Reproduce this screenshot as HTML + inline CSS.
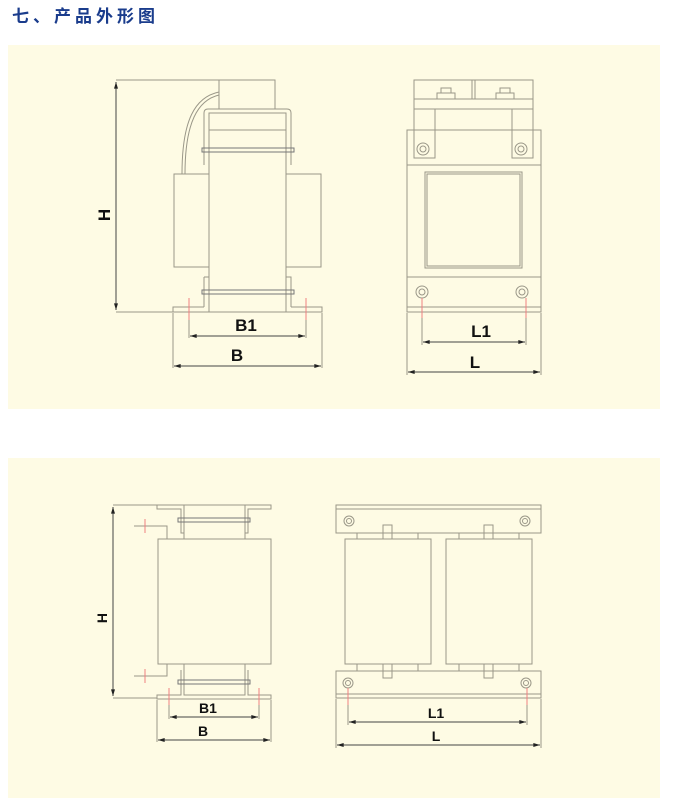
<!DOCTYPE html>
<html><head><meta charset="utf-8"><style>
body{margin:0;background:#fff;width:680px;height:799px;overflow:hidden}
svg{display:block}
</style></head><body>
<svg width="680" height="799" viewBox="0 0 680 799" xmlns="http://www.w3.org/2000/svg">
<defs>
<marker id="a" viewBox="0 0 10 6" refX="10" refY="3" markerWidth="10" markerHeight="4" orient="auto-start-reverse" markerUnits="userSpaceOnUse"><path d="M0,0 L10,3 L0,6 z" fill="#222"/></marker>
</defs>
<text x="12" y="22" font-family="'Liberation Sans','Noto Sans CJK SC',sans-serif" font-size="17" font-weight="bold" fill="#1a3c8c" letter-spacing="4">七、产品外形图</text>
<rect x="8" y="45" width="652" height="364" fill="#fefbe4"/>
<rect x="8" y="458" width="652" height="340" fill="#fefbe4"/>
<g fill="none" stroke="#9a9788" stroke-width="1">
<!-- diagram 1 left -->
<line x1="116" y1="80" x2="219" y2="80"/>
<line x1="116" y1="312" x2="173" y2="312"/>
<line x1="116" y1="82" x2="116" y2="310" stroke="#444" marker-start="url(#a)" marker-end="url(#a)"/>
<rect x="219" y="80" width="56" height="29"/>
<path d="M219,92 C195,97 182,120 182,174"/>
<path d="M219,95 C198,100 185,122 185,174"/>
<path d="M204,165 V113 Q204,109 208,109 H287 Q291,109 291,113 V165"/>
<rect x="209" y="113" width="77" height="199"/>
<line x1="209" y1="130" x2="286" y2="130"/>
<rect x="174" y="174" width="35" height="93"/>
<rect x="286" y="174" width="35" height="93"/>
<rect x="202" y="148" width="92" height="4" stroke="#777"/>
<path d="M204,277 V307 M209,277 H204 M286,277 H291 V307"/>
<rect x="202" y="290" width="92" height="4" stroke="#777"/>
<path d="M173,312 V307 H204 M291,307 H322 V312 H173"/>
<line x1="173" y1="313" x2="173" y2="368"/><line x1="322" y1="313" x2="322" y2="368"/>
<line x1="189" y1="320" x2="189" y2="338"/><line x1="306" y1="320" x2="306" y2="338"/>
<!-- diagram 1 right -->
<rect x="414" y="80" width="119" height="29"/>
<line x1="414" y1="99" x2="533" y2="99"/>
<line x1="472" y1="80" x2="472" y2="99"/><line x1="475" y1="80" x2="475" y2="99"/>
<rect x="437" y="93" width="18" height="6"/><rect x="441" y="88" width="10" height="5"/>
<rect x="496" y="93" width="18" height="6"/><rect x="500" y="88" width="10" height="5"/>
<rect x="414" y="109" width="21" height="49"/><rect x="512" y="109" width="21" height="49"/>
<rect x="407" y="130" width="134" height="182"/>
<line x1="407" y1="165" x2="541" y2="165"/><line x1="407" y1="277" x2="541" y2="277"/><line x1="407" y1="307" x2="541" y2="307"/>
<rect x="425" y="172" width="97" height="96"/><rect x="427" y="174" width="93" height="92"/>
<circle cx="423" cy="149" r="6"/><circle cx="423" cy="149" r="3"/>
<circle cx="521" cy="149" r="6"/><circle cx="521" cy="149" r="3"/>
<circle cx="422" cy="292" r="6"/><circle cx="422" cy="292" r="3"/>
<circle cx="522" cy="292" r="6"/><circle cx="522" cy="292" r="3"/>
<line x1="407" y1="313" x2="407" y2="375"/><line x1="541" y1="313" x2="541" y2="375"/>
<line x1="422" y1="318" x2="422" y2="345"/><line x1="526" y1="318" x2="526" y2="345"/>
<!-- diagram 2 left -->
<line x1="113" y1="505" x2="157" y2="505"/>
<line x1="113" y1="698" x2="157" y2="698"/>
<line x1="113" y1="507" x2="113" y2="696" stroke="#444" marker-start="url(#a)" marker-end="url(#a)"/>
<path d="M157,505 H271 V509 H248 V533 H245 M157,505 V509 H181 V533 H184"/>
<rect x="184" y="505" width="61" height="34"/>
<rect x="178" y="518" width="72" height="4" stroke="#777"/>
<rect x="158" y="539" width="113" height="125"/>
<path d="M134,526 H167 V539 M134,676 H167 V664"/>
<rect x="184" y="664" width="61" height="31"/>
<path d="M181,670 V695 H157 V699 H271 V695 H248 V670"/>
<rect x="178" y="680" width="72" height="4" stroke="#777"/>
<line x1="157" y1="700" x2="157" y2="742"/><line x1="271" y1="700" x2="271" y2="742"/>
<line x1="169" y1="705" x2="169" y2="719"/><line x1="259" y1="705" x2="259" y2="719"/>
<!-- diagram 2 right -->
<rect x="336" y="505" width="205" height="28"/><line x1="336" y1="509" x2="541" y2="509"/>
<rect x="357" y="533" width="61" height="6"/><rect x="383" y="525" width="9" height="14"/>
<rect x="459" y="533" width="60" height="6"/><rect x="484" y="525" width="9" height="14"/>
<rect x="345" y="539" width="86" height="125"/><rect x="446" y="539" width="86" height="125"/>
<rect x="357" y="664" width="61" height="7"/><rect x="383" y="664" width="9" height="14"/>
<rect x="459" y="664" width="60" height="7"/><rect x="484" y="664" width="9" height="14"/>
<rect x="336" y="671" width="205" height="27"/><line x1="336" y1="694" x2="541" y2="694"/>
<circle cx="349" cy="521" r="5"/><circle cx="349" cy="521" r="2.5"/>
<circle cx="525" cy="521" r="5"/><circle cx="525" cy="521" r="2.5"/>
<circle cx="348" cy="683" r="5"/><circle cx="348" cy="683" r="2.5"/>
<circle cx="526" cy="683" r="5"/><circle cx="526" cy="683" r="2.5"/>
<line x1="336" y1="699" x2="336" y2="748"/><line x1="541" y1="699" x2="541" y2="748"/>
<line x1="348" y1="705" x2="348" y2="725"/><line x1="527" y1="705" x2="527" y2="725"/>
</g>
<g stroke="#f08080" stroke-width="1">
<line x1="189" y1="298" x2="189" y2="320"/><line x1="306" y1="298" x2="306" y2="320"/>
<line x1="422" y1="298" x2="422" y2="318"/><line x1="526" y1="298" x2="526" y2="318"/>
<line x1="145" y1="519" x2="145" y2="533"/><line x1="145" y1="669" x2="145" y2="683"/>
<line x1="169" y1="688" x2="169" y2="705"/><line x1="259" y1="688" x2="259" y2="705"/>
<line x1="348" y1="688" x2="348" y2="705"/><line x1="527" y1="688" x2="527" y2="705"/>
</g>
<g stroke="#444" stroke-width="1" fill="none">
<line x1="190" y1="336" x2="305" y2="336" marker-start="url(#a)" marker-end="url(#a)"/>
<line x1="174" y1="366" x2="321" y2="366" marker-start="url(#a)" marker-end="url(#a)"/>
<line x1="423" y1="342" x2="525" y2="342" marker-start="url(#a)" marker-end="url(#a)"/>
<line x1="408" y1="372" x2="540" y2="372" marker-start="url(#a)" marker-end="url(#a)"/>
<line x1="170" y1="717" x2="258" y2="717" marker-start="url(#a)" marker-end="url(#a)"/>
<line x1="158" y1="740" x2="270" y2="740" marker-start="url(#a)" marker-end="url(#a)"/>
<line x1="349" y1="722" x2="526" y2="722" marker-start="url(#a)" marker-end="url(#a)"/>
<line x1="337" y1="745" x2="540" y2="745" marker-start="url(#a)" marker-end="url(#a)"/>
</g>
<g font-family="'Liberation Sans',sans-serif" font-weight="bold" fill="#111" text-anchor="middle">
<text x="246" y="331" font-size="17">B1</text>
<text x="237" y="361" font-size="17">B</text>
<text x="481" y="337" font-size="17">L1</text>
<text x="475" y="368" font-size="17">L</text>
<text transform="translate(110,215) rotate(-90)" font-size="17">H</text>
<text x="208" y="713" font-size="14">B1</text>
<text x="203" y="736" font-size="14">B</text>
<text x="436" y="718" font-size="14">L1</text>
<text x="436" y="741" font-size="14">L</text>
<text transform="translate(107,618) rotate(-90)" font-size="14">H</text>
</g>
</svg>
</body></html>
